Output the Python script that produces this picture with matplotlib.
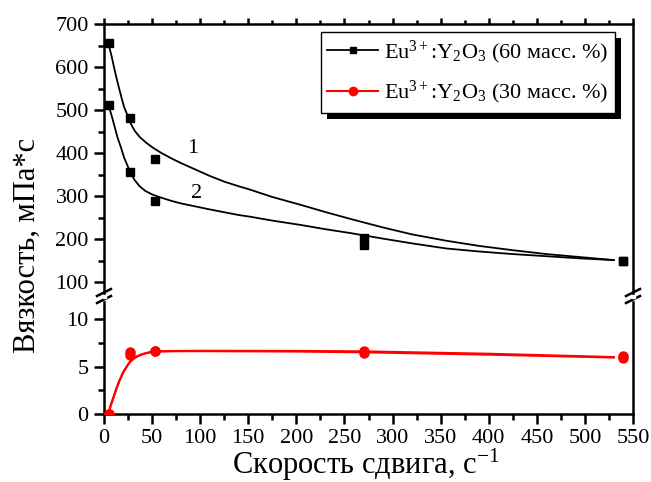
import matplotlib
matplotlib.use("Agg")
import matplotlib.pyplot as plt
from matplotlib.lines import Line2D
from matplotlib.patches import Rectangle
from matplotlib.transforms import IdentityTransform

plt.rcParams['font.family'] = ['Liberation Serif', 'DejaVu Serif']
plt.rcParams['mathtext.fontset'] = 'custom'
plt.rcParams['mathtext.rm'] = 'Liberation Serif'
plt.rcParams['mathtext.it'] = 'Liberation Serif:italic'
plt.rcParams['mathtext.bf'] = 'Liberation Serif:bold'

# ---- data ----
shear_rate = [5, 27, 53, 270, 540]
visc_60_a = [656, 482, 386, 203, 150]          # curve 1 points
visc_60_b = [512, 357, 289, 187, 150]          # curve 2 points
visc_30_a = [0.0, 6.5, 6.6, 6.6, 6.1]
visc_30_b = [0.0, 6.2, 6.6, 6.45, 5.85]

fit1_x = [4.5, 8, 11, 14, 18, 21, 25, 28, 32, 37, 43, 50, 60, 70, 80, 95, 110, 126,
          140, 152, 175, 204, 230, 256, 290, 320, 356, 390, 425, 460, 495, 530]
fit1_y = [656, 625, 594, 566, 531, 507, 485, 468, 452, 438, 426, 414, 400, 388, 377, 362, 347, 333,
          323, 315, 298, 280, 263, 247, 227, 211, 196, 184, 174, 165, 158, 151]
fit2_x = [4.5, 8, 11, 14, 18, 21, 25, 28, 32, 37, 43, 50, 60, 70, 80, 95, 110, 126,
          140, 152, 175, 204, 230, 256, 290, 320, 356, 390, 425, 460, 495, 530]
fit2_y = [512, 487, 462, 437, 411, 389, 368, 352, 337, 323, 312, 304, 296, 289, 283, 276, 269, 262,
          256, 252, 243, 233, 223, 214, 201, 190, 178, 171, 165, 160, 155, 151]

fit3_x = [4.5, 7, 10, 13, 16, 20, 24, 27, 31, 35, 40, 45, 50, 55, 70, 100, 200, 270, 400, 530]
fit3_y = [0.0, 0.9, 1.8, 2.7, 3.5, 4.4, 5.05, 5.5, 5.85, 6.1, 6.3, 6.45, 6.55, 6.6, 6.64,
          6.66, 6.65, 6.6, 6.35, 6.0]
fit4_y = [0.0, 0.9, 1.8, 2.7, 3.5, 4.4, 5.05, 5.5, 5.85, 6.1, 6.3, 6.44, 6.53, 6.58, 6.61,
          6.62, 6.58, 6.5, 6.25, 5.95]

legend_labels = ["Eu$^{3+}$:Y$_{2}$O$_{3}$ (60 масс. %)",
                 "Eu$^{3+}$:Y$_{2}$O$_{3}$ (30 масс. %)"]
xlabel = "Скорость сдвига, с$^{-1}$"
ylabel = "Вязкость, мПа*с"
upper_ticks = [100, 200, 300, 400, 500, 600, 700]
lower_ticks = [0, 5, 10]
x_ticks = list(range(0, 551, 50))

W_PX, H_PX = 651, 482
fig = plt.figure(figsize=(W_PX / 100, H_PX / 100), dpi=100)

def fx(px):
    return px / W_PX

def fy(py):
    return 1 - py / H_PX

left, right = 104, 633
up_top, up_bot = 24.4, 294
lo_top, lo_bot = 302, 414

ax1 = fig.add_axes([fx(left), fy(up_bot), fx(right) - fx(left), fy(up_top) - fy(up_bot)])
ax2 = fig.add_axes([fx(left), fy(lo_bot), fx(right) - fx(left), fy(lo_top) - fy(lo_bot)])

# upper panel
ax1.plot(fit1_x, fit1_y, color='black', lw=1.3, zorder=2, solid_joinstyle='round')
ax1.plot(fit2_x, fit2_y, color='black', lw=1.3, zorder=2, solid_joinstyle='round')
ax1.plot(shear_rate, visc_60_a, ls='none', marker='s', ms=5.5, color='black', zorder=3)
ax1.plot(shear_rate, visc_60_b, ls='none', marker='s', ms=5.5, color='black', zorder=3)
ax1.set_xlim(0, 550)
ax1.set_ylim(72, 700)
ax1.set_yticks(upper_ticks)
ax1.set_yticks([150, 250, 350, 450, 550, 650], minor=True)
ax1.text(92.5, 410, "1", fontsize=16, ha='center', va='center')
ax1.text(96.6, 307, "2", fontsize=16, ha='center', va='center')

# lower panel
ax2.plot(fit3_x, fit3_y, color='red', lw=1.5, zorder=2, solid_joinstyle='round')
ax2.plot(fit3_x, fit4_y, color='red', lw=1.5, zorder=2, solid_joinstyle='round')
ax2.plot(shear_rate, visc_30_a, ls='none', marker='o', ms=6.5, color='red', zorder=3)
ax2.plot(shear_rate, visc_30_b, ls='none', marker='o', ms=6.5, color='red', zorder=3)
ax2.set_xlim(0, 550)
ax2.set_ylim(0, 11.8)
ax2.set_yticks(lower_ticks)
ax2.set_yticks([2.5, 7.5], minor=True)
ax2.set_xticks(x_ticks)
ax2.set_xticks(list(range(25, 550, 50)), minor=True)

for ax in (ax1, ax2):
    for s in ax.spines.values():
        s.set_linewidth(1.8)
    ax.tick_params(axis='both', which='major', direction='out', length=7, width=1.8,
                   labelsize=16, pad=4)
    ax.tick_params(axis='both', which='minor', direction='out', length=4, width=1.8)
    ax.tick_params(axis='y', right=False, which='both')

ax1.spines['bottom'].set_visible(False)
ax1.set_xticks(x_ticks)
ax1.set_xticks(list(range(25, 550, 50)), minor=True)
ax1.tick_params(axis='x', which='both', bottom=False, labelbottom=False, top=True)
ax1.tick_params(axis='x', which='major', length=4)
ax1.tick_params(axis='x', which='minor', length=3)
ax2.spines['top'].set_visible(False)
ax2.tick_params(axis='x', which='both', top=False)

# break marks
for xc in (left, right):
    for yc in (292.5, 299.5):
        fig.add_artist(Line2D([fx(xc - 7), fx(xc + 7)], [fy(yc + 3.5), fy(yc - 3.5)],
                              transform=fig.transFigure, color='black', lw=1.8))
    fig.add_artist(Rectangle((fx(xc - 1.5), fy(297.5)), fx(3), fy(294.5) - fy(297.5),
                             transform=fig.transFigure, color='white', zorder=2))

# labels
fig.text(fx(27), fy(245), ylabel, rotation=90, fontsize=22, ha='center', va='center')
fig.text(fx(366), fy(474), xlabel, fontsize=22, ha='center', va='baseline')

# legend
handles = [Line2D([], [], color='black', lw=1.3, marker='s', ms=5),
           Line2D([], [], color='red', lw=1.5, marker='o', ms=6)]
leg = ax1.legend(handles, legend_labels, loc='upper right',
                 bbox_to_anchor=(fx(615), fy(32)), bbox_transform=fig.transFigure,
                 fontsize=16, frameon=True, fancybox=False, framealpha=1,
                 edgecolor='black', handlelength=2.3, handletextpad=0.25,
                 labelspacing=0.6, borderpad=0.3, borderaxespad=0)
leg.get_frame().set_linewidth(1.0)
leg.set_zorder(6)

fig.canvas.draw()
bb = leg.get_frame().get_window_extent(fig.canvas.get_renderer())
shadow = Rectangle((bb.x0 + 6, bb.y0 - 6), bb.width, bb.height, transform=IdentityTransform(),
                   facecolor='black', edgecolor='none', zorder=5.5, clip_on=False)
ax1.add_patch(shadow)

fig.savefig("out.png", dpi=100)
